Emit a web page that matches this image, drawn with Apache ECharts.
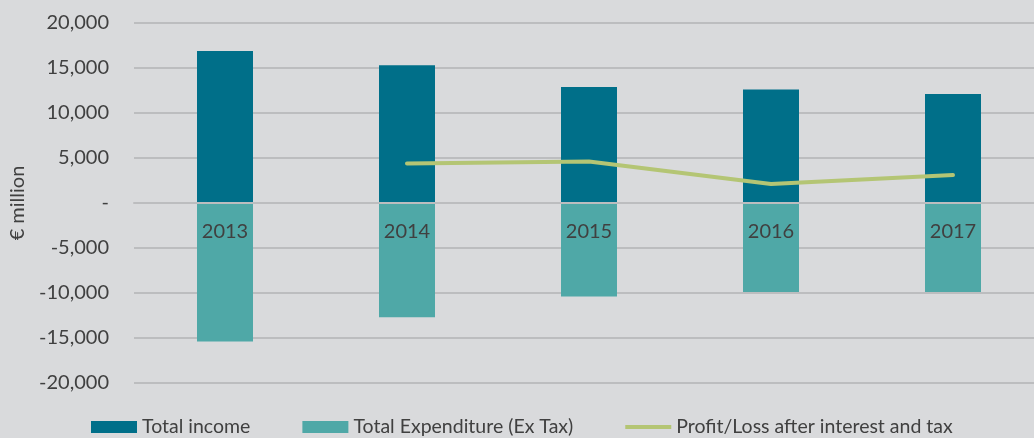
<!DOCTYPE html>
<html>
<head>
<meta charset="utf-8">
<script src="https://cdn.jsdelivr.net/npm/echarts@6/dist/echarts.min.js"></script>
<style>
html,body{margin:0;padding:0;background:#d9dadc;overflow:hidden;width:1034px;height:438px;}
#chart{width:1050px;height:438px;}
</style>
</head>
<body>
<div id="chart"></div>
<script>
const categories = ['2013', '2014', '2015', '2016', '2017'];
const totalIncome = [16900, 15300, 12900, 12600, 12100];
const totalExpenditure = [-15400, -12700, -10400, -9900, -9900];
const profitLoss = ['-', 4400, 4600, 2100, 3100];
const yTicks = { min: -20000, max: 20000, interval: 5000 };

const textColor = '#404040';
const font = 'Lato';

const chart = echarts.init(document.getElementById('chart'));
chart.setOption({
  backgroundColor: '#d9dadc',
  animation: false,
  textStyle: { fontFamily: font },
  grid: { left: 134, right: 6, top: 23, height: 360 },
  legend: {
    left: 86,
    top: 412,
    itemGap: 52,
    itemWidth: 46,
    itemHeight: 12,
    textStyle: { color: textColor, fontSize: 19.5, fontFamily: font },
    data: [
      { name: 'Total income', icon: 'rect' },
      { name: 'Total Expenditure (Ex Tax)', icon: 'rect' },
      { name: 'Profit/Loss after interest and tax', icon: 'path://M0,0 L46,0 L46,4 L0,4 Z' }
    ]
  },
  xAxis: {
    type: 'category',
    data: categories,
    z: 10,
    axisLine: { onZero: true, lineStyle: { color: '#bcbdbf', width: 2 } },
    axisTick: { show: false },
    axisLabel: { color: textColor, fontSize: 20, margin: -161, fontFamily: font }
  },
  yAxis: {
    type: 'value',
    min: yTicks.min,
    max: yTicks.max,
    interval: yTicks.interval,
    name: '€ million',
    nameLocation: 'middle',
    nameGap: 106,
    nameTextStyle: { color: textColor, fontSize: 20, fontFamily: font },
    axisLine: { show: false },
    axisTick: { show: false },
    splitLine: { lineStyle: { color: '#bcbdbf', width: 2 } },
    axisLabel: {
      color: textColor,
      fontSize: 20,
      margin: 25,
      fontFamily: font,
      formatter: v => v === 0 ? '-' : v.toLocaleString('en-US')
    }
  },
  series: [
    {
      name: 'Total income',
      type: 'bar',
      data: totalIncome,
      barWidth: 56,
      barGap: '-100%',
      itemStyle: { color: '#006f89' }
    },
    {
      name: 'Total Expenditure (Ex Tax)',
      type: 'bar',
      data: totalExpenditure,
      barWidth: 56,
      barGap: '-100%',
      itemStyle: { color: '#4fa8a7' }
    },
    {
      name: 'Profit/Loss after interest and tax',
      type: 'line',
      data: profitLoss,
      showSymbol: false,
      symbol: 'none',
      z: 5,
      lineStyle: { color: '#b4c574', width: 4, cap: 'round' },
      itemStyle: { color: '#b4c574' }
    }
  ]
});
</script>
</body>
</html>
